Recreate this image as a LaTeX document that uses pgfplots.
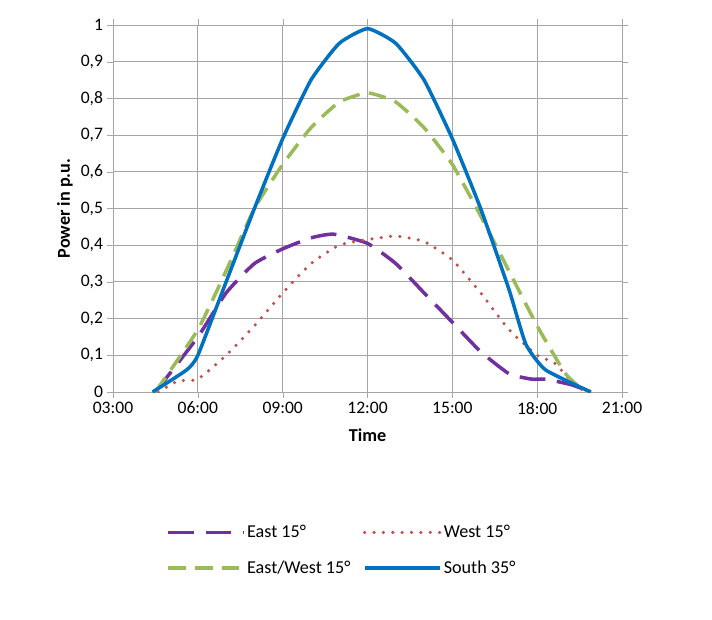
\documentclass[border=0pt]{standalone}
\usepackage{pgfplots}
\pgfplotsset{compat=1.18}
\usepackage{fontspec}
\setmainfont{Carlito}
\definecolor{cE}{HTML}{7030A0}
\definecolor{cW}{HTML}{C0504D}
\definecolor{cEW}{HTML}{9BBB59}
\definecolor{cS}{HTML}{0070C0}
\begin{document}
\begin{tikzpicture}[x=0.03cm,y=0.03cm]
\path[use as bounding box] (-113,-227) rectangle (599,392);
\begin{axis}[at={(0,0)},anchor=south west,
width=15.27cm, height=11.01cm, scale only axis,
xmin=3, xmax=21, ymin=0, ymax=1,
xtick={3,6,...,21}, xticklabels={03:00,06:00,09:00,12:00,15:00,18:00,21:00},
ytick={0,0.1,...,1},
yticklabels={0,{0,1},{0,2},{0,3},{0,4},{0,5},{0,6},{0,7},{0,8},{0,9},1},
grid=major, grid style={gray!70, line width=0.8pt},
axis line style={gray!70, line width=0.8pt},
tick style={gray!70}, tick align=outside, major tick length=5pt,
ticklabel style={font=\fontsize{15}{17}\selectfont},
/pgf/number format/assume math mode=true,
xlabel={\textbf{Time}}, ylabel={\textbf{Power in p.u.}},
label style={font=\fontsize{15.5}{17}\selectfont},
xlabel style={yshift=-6pt},
legend style={draw=none, fill=none, at={(0.45,-0.35)}, anchor=north, legend columns=2,
 font=\fontsize{15.5}{17}\selectfont, /tikz/every even column/.append style={column sep=0.3cm},
 row sep=14pt, legend cell align=left},
legend image code/.code={\draw[#1] (0cm,0cm) -- (2.25cm,0cm);},
]
\addplot[cE, line width=3pt, dash pattern=on 22pt off 10pt, smooth, tension=0.3] coordinates {
(4.5,0)(6,0.15)(7,0.27)(8,0.35)(9,0.39)(10,0.42)(10.8,0.43)(12,0.405)(13,0.35)(14,0.27)(15,0.19)(16,0.11)(17,0.05)(17.8,0.035)(18.3,0.035)(19.2,0.02)(19.9,0)};
\addlegendentry{East 15°}
\addplot[cW, line width=3pt, dash pattern=on 0pt off 8pt, line cap=round, smooth, tension=0.3] coordinates {
(4.6,0)(5.3,0.03)(6,0.035)(7,0.1)(8,0.18)(9,0.27)(10,0.35)(11,0.4)(12,0.415)(13,0.425)(14,0.41)(15,0.36)(16,0.27)(17,0.17)(18,0.1)(18.6,0.08)(19.2,0.03)(19.7,0)};
\addlegendentry{West 15°}
\addplot[cEW, line width=3pt, dash pattern=on 15pt off 8pt, smooth, tension=0.3] coordinates {
(4.5,0)(6,0.17)(7,0.33)(8,0.5)(9,0.62)(10,0.72)(11,0.79)(12,0.815)(13,0.79)(14,0.72)(15,0.62)(16,0.48)(17,0.33)(18,0.18)(19,0.05)(19.7,0)};
\addlegendentry{East/West 15°}
\addplot[cS, line width=3pt, smooth, tension=0.3] coordinates {
(4.4,0)(5.6,0.06)(6,0.1)(7,0.3)(8,0.5)(9,0.69)(10,0.85)(11,0.95)(12,0.99)(13,0.95)(14,0.85)(15,0.69)(16,0.5)(17,0.28)(17.6,0.13)(18.3,0.06)(19.9,0)};
\addlegendentry{South 35°}
\end{axis}
\end{tikzpicture}
\end{document}
